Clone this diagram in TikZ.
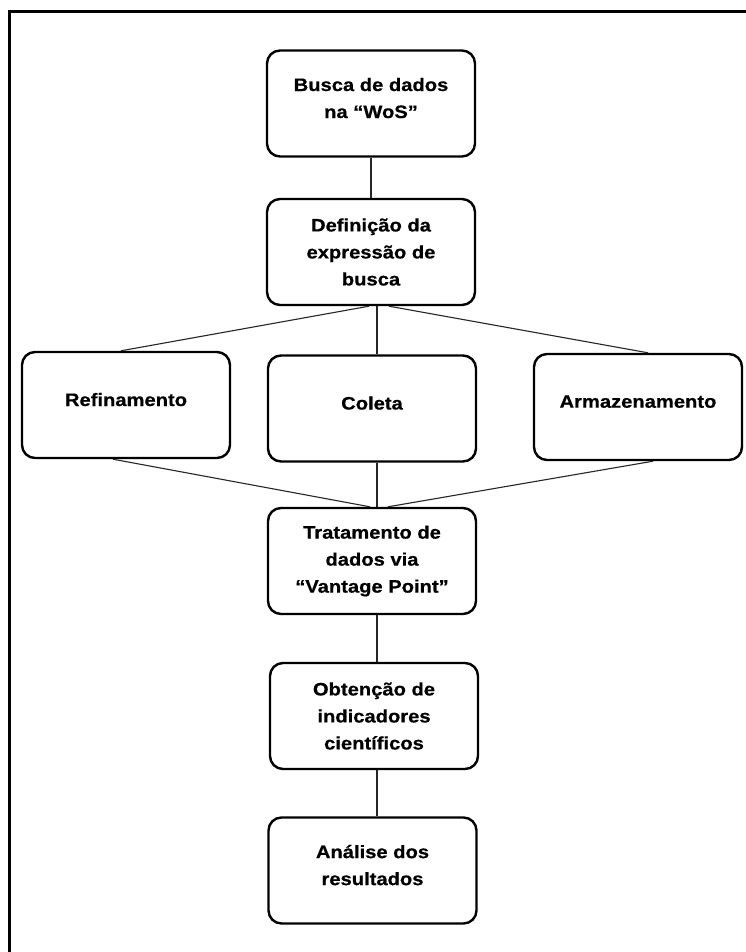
\documentclass[tikz,border=0pt]{standalone}
\usepackage{fontspec}
\setmainfont[FakeStretch=1.12,BoldFeatures={FakeBold=0.6}]{Liberation Sans}
\begin{document}
\begin{tikzpicture}[x=1pt,y=-1pt,
  box/.style={draw=black, line width=2.4pt, rounded corners=13pt,
    minimum width=208pt, minimum height=106pt, align=center, inner sep=0pt,
    font=\fontsize{18}{27}\selectfont\bfseries},
  upd/.style={execute at end node={\rule[-#1]{0pt}{0pt}}},
  dn/.style={execute at begin node={\rule{0pt}{#1}}},
  conn/.style={draw=black!85, line width=1.1pt}]
\useasboundingbox (0,0) rectangle (745,952);
\fill[white] (0,0) rectangle (745,952);
\draw[line width=3pt] (9,970) -- (9,12) -- (760,12);

\node[box,upd=11pt] (busca) at (371,103.5) {Busca de dados\\na “WoS”};
\node[box,dn=18pt] (def) at (371,252) {Definição da\\expressão de\\busca};
\node[box,upd=11pt] (ref) at (126,405) {Refinamento};
\node[box,upd=11pt] (col) at (372,408.5) {Coleta};
\node[box,upd=11pt] (arm) at (638,407) {Armazenamento};
\node[box,dn=22pt] (trat) at (372,561) {Tratamento de\\dados via\\“Vantage Point”};
\node[box] (obt) at (374,716) {Obtenção de\\indicadores\\científicos};
\node[box,upd=11pt] (ana) at (372.5,870.5) {Análise dos\\resultados};

\draw[conn] (busca.south) -- (def.north);
\draw[conn] ([xshift=-2pt]def.south) -- ([xshift=-5pt]ref.north);
\draw[conn] ([xshift=6pt]def.south) -- ([xshift=5pt]col.north);
\draw[conn] ([xshift=18pt]def.south) -- ([xshift=10pt]arm.north);
\draw[conn] ([xshift=-13pt]ref.south) -- ([xshift=-2pt]trat.north);
\draw[conn] ([xshift=5pt]col.south) -- ([xshift=5pt]trat.north);
\draw[conn] ([xshift=15pt]arm.south) -- ([xshift=16pt]trat.north);
\draw[conn] ([xshift=5pt]trat.south) -- ([xshift=3pt]obt.north);
\draw[conn] ([xshift=3pt]obt.south) -- ([xshift=4.5pt]ana.north);
\end{tikzpicture}
\end{document}
